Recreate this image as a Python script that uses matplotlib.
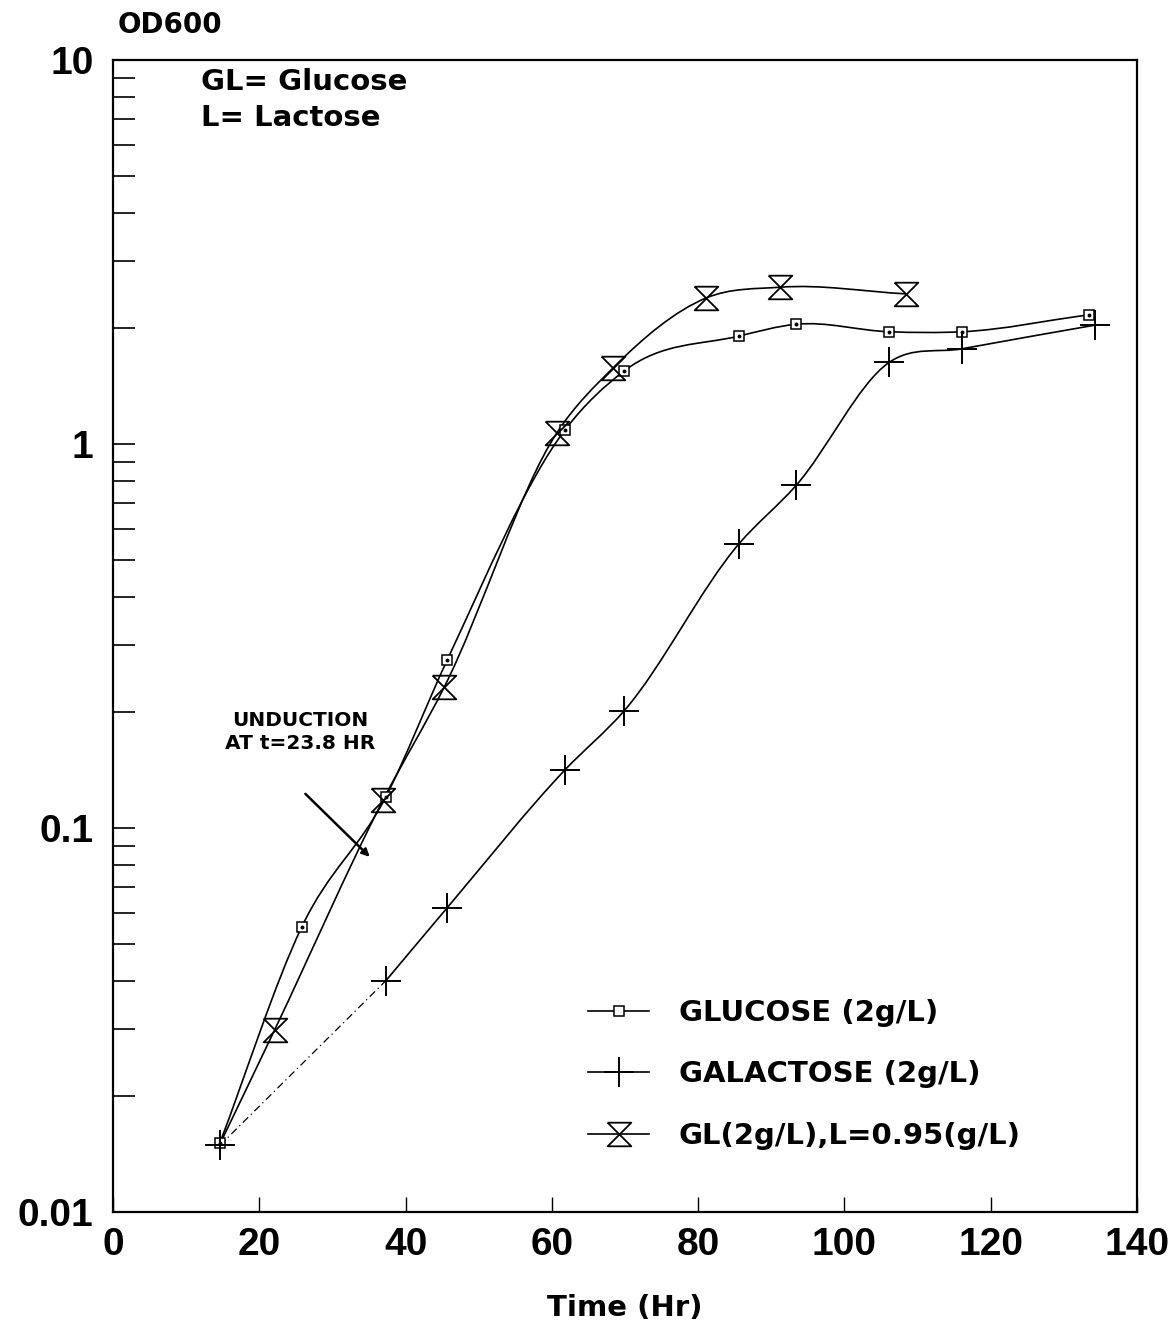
import numpy as np
import matplotlib.pyplot as plt
from matplotlib.path import Path
from matplotlib.patches import PathPatch
from matplotlib.lines import Line2D
from matplotlib.ticker import LogLocator, FixedLocator, NullFormatter

# tick numbers in Liberation Sans, all other lettering in the wider DejaVu Sans
plt.rcParams["font.family"] = ["Liberation Sans", "DejaVu Sans"]
plt.rcParams["font.weight"] = "bold"
TXT = dict(family="DejaVu Sans", fontweight="bold")

# ---------------------------------------------------------------- data
glu_t = [14.6, 25.8, 37.3, 45.7, 61.8, 69.9, 85.6, 93.4, 106.1, 116.1, 133.4]
glu_od = [0.0151, 0.0552, 0.1205, 0.274, 1.088, 1.55, 1.91, 2.05, 1.96, 1.96, 2.17]

gal_t = [14.6, 37.3, 45.7, 61.8, 69.9, 85.6, 93.4, 106.1, 116.1, 134.3]
gal_od = [0.0149, 0.040, 0.062, 0.1417, 0.202, 0.55, 0.78, 1.63, 1.77, 2.04]

# GL/L run shares the inoculum point of the other two cultures
gll_t = [14.6, 22.1, 36.9, 45.3, 60.7, 68.4, 81.1, 91.2, 108.4]
gll_od = [0.015, 0.0298, 0.118, 0.233, 1.07, 1.58, 2.40, 2.56, 2.46]

labels = ["GLUCOSE (2g/L)", "GALACTOSE (2g/L)", "GL(2g/L),L=0.95(g/L)"]


# ---------------------------------------------------------------- helpers
def smooth_path(t, od):
    """Cubic Hermite curve through the points (slopes from finite differences
    in log space), expressed as Bezier segments so matplotlib draws it."""
    t = np.asarray(t, float)
    ly = np.log10(od)
    m = np.gradient(ly, t)
    verts = [(t[0], ly[0])]
    codes = [Path.MOVETO]
    for i in range(len(t) - 1):
        h = (t[i + 1] - t[i]) / 3.0
        verts += [(t[i] + h, ly[i] + h * m[i]),
                  (t[i + 1] - h, ly[i + 1] - h * m[i + 1]),
                  (t[i + 1], ly[i + 1])]
        codes += [Path.CURVE4] * 3
    verts = np.array(verts)
    verts[:, 1] = 10 ** verts[:, 1]
    return Path(verts, codes)


hourglass = Path([(-1, 1), (1, 1), (-1, -1), (1, -1), (-1, 1)],
                 [Path.MOVETO, Path.LINETO, Path.LINETO, Path.LINETO, Path.LINETO])

sq_kw = dict(marker="s", ms=6.5, mfc="white", mec="black", mew=1.1)
plus_kw = dict(marker="+", ms=22, mec="black", mew=1.4)
hg_kw = dict(marker=hourglass, ms=17, mfc="none", mec="black", mew=1.3)

# ---------------------------------------------------------------- figure
fig = plt.figure(figsize=(11.76, 13.27), dpi=100)
ax = fig.add_axes([0.0961, 0.0867, 0.8707, 0.8681])
ax.set_yscale("log")
ax.set_xlim(0, 140)
ax.set_ylim(0.01, 10)

LW = 1.2
ax.add_patch(PathPatch(smooth_path(glu_t, glu_od), fc="none", ec="black", lw=LW))
ax.add_patch(PathPatch(smooth_path(gll_t, gll_od), fc="none", ec="black", lw=LW))
# galactose: first interval drawn dash-dot, rest as a smooth solid curve
ax.plot(gal_t[:2], gal_od[:2], color="black", lw=0.9, ls=(0, (6, 3, 1, 3)))
ax.add_patch(PathPatch(smooth_path(gal_t[1:], gal_od[1:]), fc="none", ec="black", lw=LW))

ax.plot(glu_t, glu_od, ls="none", **sq_kw)
ax.plot(glu_t, glu_od, ls="none", marker="o", ms=1.8, color="black")
ax.plot(gal_t, gal_od, ls="none", **plus_kw)
ax.plot(gll_t[1:], gll_od[1:], ls="none", **hg_kw)

# ---------------------------------------------------------------- axes styling
for s in ax.spines.values():
    s.set_linewidth(1.6)

ax.xaxis.set_major_locator(FixedLocator([0, 20, 40, 60, 80, 100, 120, 140]))
ax.tick_params(axis="x", which="major", direction="in", length=11, width=1.0,
               labelsize=28, pad=11, top=False)
ax.yaxis.set_major_locator(FixedLocator([0.01, 0.1, 1, 10]))
ax.set_yticklabels(["0.01", "0.1", "1", "10"])
ax.yaxis.set_minor_locator(LogLocator(base=10, subs=np.arange(2, 10)))
ax.yaxis.set_minor_formatter(NullFormatter())
ax.tick_params(axis="y", which="both", direction="in", length=16, width=1.2,
               labelsize=28, pad=14, right=False)

ax.set_xlabel("Time (Hr)", fontsize=21, labelpad=22, **TXT)
fig.text(0.100, 0.981, "OD600", fontsize=20, ha="left", va="center", **TXT)

ax.text(0.086, 0.981, "GL= Glucose", transform=ax.transAxes, fontsize=21,
        ha="left", va="center", **TXT)
ax.text(0.086, 0.950, "L= Lactose", transform=ax.transAxes, fontsize=21,
        ha="left", va="center", **TXT)

ax.text(25.6, 0.190, "UNDUCTION", fontsize=14.5, ha="center", va="center", **TXT)
ax.text(25.6, 0.1655, "AT t=23.8 HR", fontsize=14.5, ha="center", va="center", **TXT)
ax.annotate("", xy=(35.1, 0.0841), xytext=(26.3, 0.1227),
            arrowprops=dict(arrowstyle="-|>", color="black", lw=1.8,
                            mutation_scale=11, shrinkA=0, shrinkB=0))

handles = [
    Line2D([], [], color="black", lw=LW, **sq_kw),
    Line2D([], [], color="black", lw=LW, **plus_kw),
    Line2D([], [], color="black", lw=LW, **hg_kw),
]
leg = ax.legend(handles, labels, loc="upper left", bbox_to_anchor=(0.464, 0.185),
                frameon=False, prop=dict(family="DejaVu Sans", weight="bold", size=21),
                handlelength=2.1, handletextpad=1.0,
                labelspacing=1.15, borderpad=0, borderaxespad=0)

fig.savefig("out.png", dpi=100)
